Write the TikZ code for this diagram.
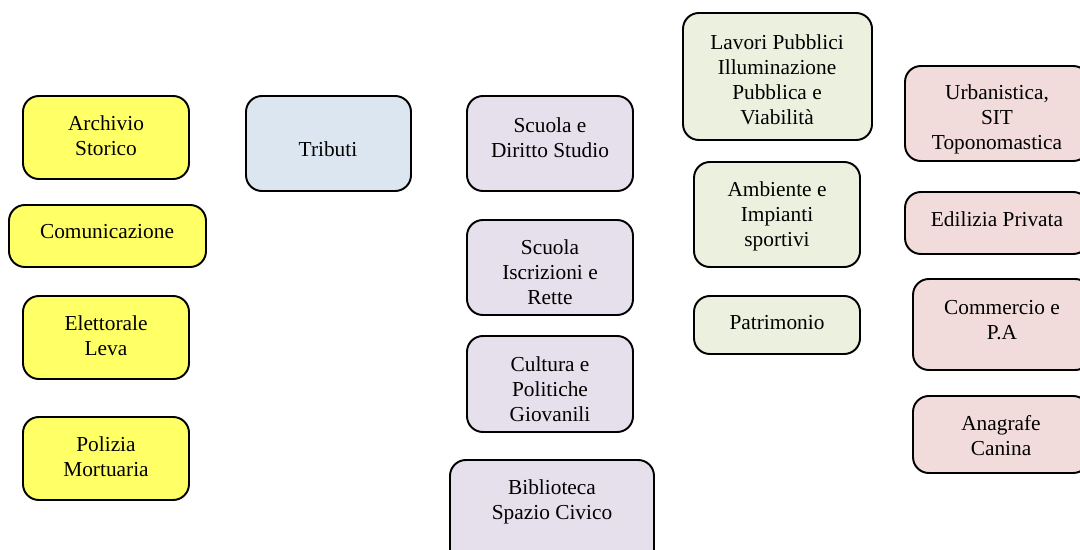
\documentclass[tikz,border=0pt]{standalone}
\usepackage{fontspec}
\setmainfont{Liberation Serif}
\definecolor{giallo}{HTML}{FFFF66}
\definecolor{azzurro}{HTML}{DCE6F1}
\definecolor{lilla}{HTML}{E5E0EC}
\definecolor{verde}{HTML}{EBF1DE}
\definecolor{rosa}{HTML}{F2DCDB}
\begin{document}
\begin{tikzpicture}[x=0.567pt,y=-0.567pt,
    ufficio/.style={draw=black,line width=1.1pt,rounded corners=9pt},
    testo/.style={align=center,inner sep=0pt,font=\fontsize{12.1pt}{14.2pt}\selectfont}]
  \useasboundingbox (0,0) rectangle (1080,549);
  \clip (0,0) rectangle (1080,549);
  %colonna gialla
  \draw[ufficio,fill=giallo] (23,96) rectangle (189,179);
  \node[testo] (archivio) at (106,136) {Archivio\\Storico};
  \draw[ufficio,fill=giallo] (9,205) rectangle (206,267);
  \node[testo] (comunicazione) at (107,232) {Comunicazione};
  \draw[ufficio,fill=giallo] (23,296) rectangle (189,379);
  \node[testo] (elettorale) at (106,336) {Elettorale\\Leva};
  \draw[ufficio,fill=giallo] (23,417) rectangle (189,500);
  \node[testo] (polizia) at (106,457) {Polizia\\Mortuaria};
  %tributi
  \draw[ufficio,fill=azzurro] (246,96) rectangle (411,191);
  \node[testo] (tributi) at (328,149) {Tributi};
  %scuola e cultura
  \draw[ufficio,fill=lilla] (467,96) rectangle (633,191);
  \node[testo] (diritto) at (550,138) {Scuola e\\Diritto Studio};
  \draw[ufficio,fill=lilla] (467,220) rectangle (633,315);
  \node[testo] (iscrizioni) at (550,272) {Scuola\\Iscrizioni e\\Rette};
  \draw[ufficio,fill=lilla] (467,336) rectangle (633,432);
  \node[testo] (cultura) at (550,389) {Cultura e\\Politiche\\Giovanili};
  \draw[ufficio,fill=lilla] (450,460) rectangle (654,570);
  \node[testo] (biblioteca) at (552,502) {Biblioteca\\Spazio Civico};
  %lavori pubblici
  \draw[ufficio,fill=verde] (683,13) rectangle (872,140);
  \node[testo] (lavori) at (777,80) {Lavori Pubblici\\Illuminazione\\Pubblica e\\Viabilità};
  \draw[ufficio,fill=verde] (694,162) rectangle (860,267);
  \node[testo] (ambiente) at (777,216) {Ambiente e\\Impianti\\sportivi};
  \draw[ufficio,fill=verde] (694,296) rectangle (860,354);
  \node[testo] (patrimonio) at (777,323) {Patrimonio};
  %urbanistica
  \draw[ufficio,fill=rosa] (905,66) rectangle (1089,161);
  \node[testo] (urbanistica) at (997,119) {Urbanistica,\\SIT\\Toponomastica};
  \draw[ufficio,fill=rosa] (905,192) rectangle (1089,254);
  \node[testo] (edilizia) at (997,219) {Edilizia Privata};
  \draw[ufficio,fill=rosa] (913,279) rectangle (1091,370);
  \node[testo] (commercio) at (1002,320) {Commercio e\\P.A};
  \draw[ufficio,fill=rosa] (913,396) rectangle (1089,473);
  \node[testo] (anagrafe) at (1001,436) {Anagrafe\\Canina};
\end{tikzpicture}
\end{document}
